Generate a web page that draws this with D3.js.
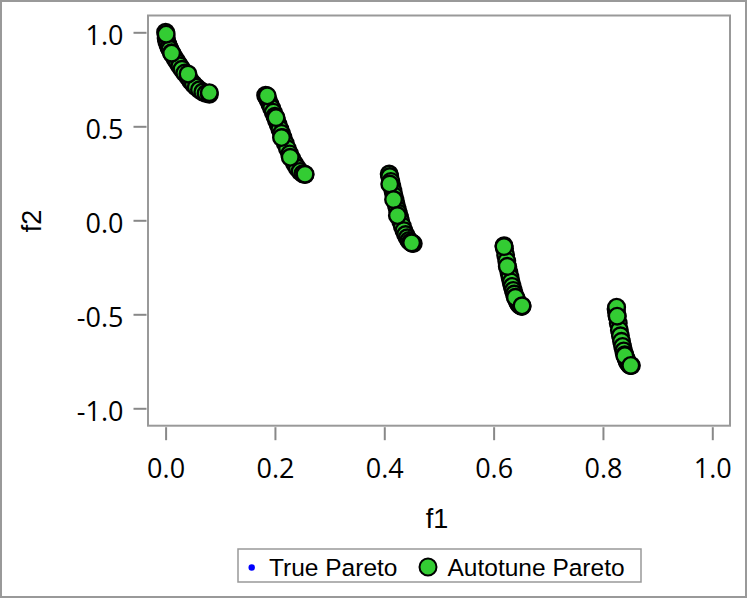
<!DOCTYPE html>
<html><head><meta charset="utf-8">
<script src="https://cdn.jsdelivr.net/npm/d3@7"></script>
<style>body{margin:0;background:#fff}svg{display:block}</style>
</head><body>
<script>
// Autotune Pareto points (f1, f2), by cluster; the last group is drawn on top
const autoF1 = [
  0.000,0.001,0.002,0.004,0.006,0.008,0.011,0.014,0.018,0.022,0.026,0.030,0.035,0.041,0.046,0.051,0.056,0.062,0.068,0.074,0.080,
  0.183,0.185,0.188,0.191,0.194,0.197,0.200,0.203,0.206,0.209,0.212,0.215,0.219,0.223,0.227,0.231,0.236,0.241,0.246,0.251,0.255,
  0.409,0.410,0.412,0.414,0.416,0.418,0.420,0.422,0.424,0.426,0.428,0.430,0.433,0.436,0.439,0.442,0.445,0.448,0.451,0.453,
  0.619,0.620,0.622,0.624,0.626,0.628,0.630,0.632,0.634,0.636,0.638,0.640,0.642,0.644,0.646,0.648,0.650,0.652,
  0.824,0.825,0.826,0.828,0.830,0.832,0.834,0.836,0.838,0.840,0.842,0.844,0.846,0.848,0.850,0.852,
  0.001,0.011,0.041,0.080, 0.186,0.202,0.212,0.228,0.255, 0.410,0.417,0.424,0.450, 0.619,0.625,0.640,0.652, 0.825,0.826,0.840,0.851
];
const autoF2 = [
  1.000,0.968,0.954,0.936,0.921,0.909,0.891,0.876,0.857,0.838,0.821,0.803,0.783,0.762,0.741,0.724,0.709,0.694,0.682,0.674,0.670,
  0.665,0.654,0.636,0.616,0.596,0.575,0.553,0.530,0.508,0.485,0.462,0.439,0.409,0.380,0.353,0.328,0.301,0.278,0.260,0.248,0.243,
  0.246,0.233,0.207,0.180,0.155,0.130,0.105,0.082,0.058,0.037,0.016,-0.004,-0.031,-0.055,-0.076,-0.093,-0.107,-0.116,-0.122,-0.124,
  -0.135,-0.152,-0.185,-0.217,-0.248,-0.277,-0.303,-0.328,-0.352,-0.373,-0.392,-0.409,-0.423,-0.435,-0.445,-0.452,-0.456,-0.458,
  -0.472,-0.492,-0.511,-0.548,-0.583,-0.614,-0.644,-0.671,-0.695,-0.715,-0.733,-0.748,-0.759,-0.767,-0.772,-0.773,
  0.990,0.889,0.778,0.679, 0.662,0.546,0.440,0.335,0.245, 0.193,0.110,0.025,-0.120, -0.140,-0.245,-0.410,-0.455, -0.462,-0.510,-0.720,-0.772
];
// True Pareto points (hidden beneath the Autotune markers)
const trueF1 = [0.000,0.020,0.040,0.060,0.080,0.190,0.210,0.230,0.250,0.410,0.425,0.440,0.450,0.620,0.635,0.650,0.825,0.840,0.850];
const trueF2 = [1.000,0.847,0.762,0.698,0.670,0.622,0.469,0.333,0.250,0.233,0.047,-0.087,-0.121,-0.152,-0.363,-0.456,-0.492,-0.715,-0.772];

const xTicks = [0.0,0.2,0.4,0.6,0.8,1.0];
const yTicks = [-1.0,-0.5,0.0,0.5,1.0];
const seriesNames = ["True Pareto","Autotune Pareto"];

const W = 747, H = 598;
const L = 148, R = 730, T = 15.5, B = 425.7;
const tickFont = "'Open Sans', sans-serif";
const labelFont = "'Liberation Sans', Arial, sans-serif";
const fmt = d3.formatLocale({decimal:".", thousands:",", grouping:[3], currency:["",""], minus:"-"}).format(".1f");

const svg = d3.select("body").append("svg").attr("width", W).attr("height", H);

svg.append("rect").attr("x",1).attr("y",1).attr("width",W-2).attr("height",H-2)
  .attr("fill","#fff").attr("stroke","#999").attr("stroke-width",2);

const x = d3.scaleLinear().domain([-0.0322, 1.0324]).range([L, R]);
const y = d3.scaleLinear().domain([-1.0926, 1.0894]).range([B, T]);

// frame
svg.append("rect").attr("x",L).attr("y",T).attr("width",R-L).attr("height",B-T)
  .attr("fill","none").attr("stroke","#999").attr("stroke-width",2);

// axes
const xa = svg.append("g").attr("transform",`translate(0,${B+1.5})`)
  .call(d3.axisBottom(x).tickValues(xTicks).tickFormat(fmt).tickSize(13).tickSizeOuter(0));
xa.select(".domain").remove();
xa.selectAll(".tick line").attr("stroke","#888").attr("stroke-width",2);
xa.selectAll(".tick text").attr("y",31.5).attr("dy","0.71em")
  .style("font-family",tickFont).style("font-size","27px").attr("fill","#000");

const ya = svg.append("g").attr("transform",`translate(${L-1.5},0)`)
  .call(d3.axisLeft(y).tickValues(yTicks).tickFormat(fmt).tickSize(13).tickSizeOuter(0));
ya.select(".domain").remove();
ya.selectAll(".tick line").attr("stroke","#888").attr("stroke-width",2);
ya.selectAll(".tick text").attr("x",-23).attr("dy","0.45em")
  .style("font-family",tickFont).style("font-size","27px").attr("fill","#000");

// axis labels
svg.append("text").attr("x",(L+R)/2 - 2).attr("y",528).attr("text-anchor","middle")
  .style("font-family",labelFont).style("font-size","27px").text("f1");
svg.append("text").attr("transform","translate(41,221) rotate(-90)").attr("text-anchor","middle")
  .style("font-family",labelFont).style("font-size","27px").text("f2");

// data
const trueData = trueF1.map((v,i)=>({f1:v,f2:trueF2[i]}));
const autoData = autoF1.map((v,i)=>({f1:v,f2:autoF2[i]}));

svg.append("g").selectAll("circle").data(trueData).join("circle")
  .attr("cx",d=>x(d.f1)).attr("cy",d=>y(d.f2)).attr("r",3).attr("fill","#0000ff");

svg.append("g").selectAll("circle").data(autoData).join("circle")
  .attr("cx",d=>x(d.f1)).attr("cy",d=>y(d.f2)).attr("r",8.3)
  .attr("fill","#33cc33").attr("stroke","#000").attr("stroke-width",2.4);

// legend
const lg = svg.append("g");
lg.append("rect").attr("x",238).attr("y",549).attr("width",403).attr("height",33)
  .attr("fill","#fff").attr("stroke","#999").attr("stroke-width",1.5);
lg.append("circle").attr("cx",251.7).attr("cy",567.5).attr("r",3.2).attr("fill","#0000ff");
lg.append("text").attr("x",269).attr("y",575.5).style("font-family",labelFont).style("font-size","24.5px").text(seriesNames[0]);
lg.append("circle").attr("cx",428).attr("cy",567).attr("r",8.5).attr("fill","#33cc33").attr("stroke","#000").attr("stroke-width",2);
lg.append("text").attr("x",447.5).attr("y",575.5).style("font-family",labelFont).style("font-size","24.5px").text(seriesNames[1]);
</script>
</body></html>
